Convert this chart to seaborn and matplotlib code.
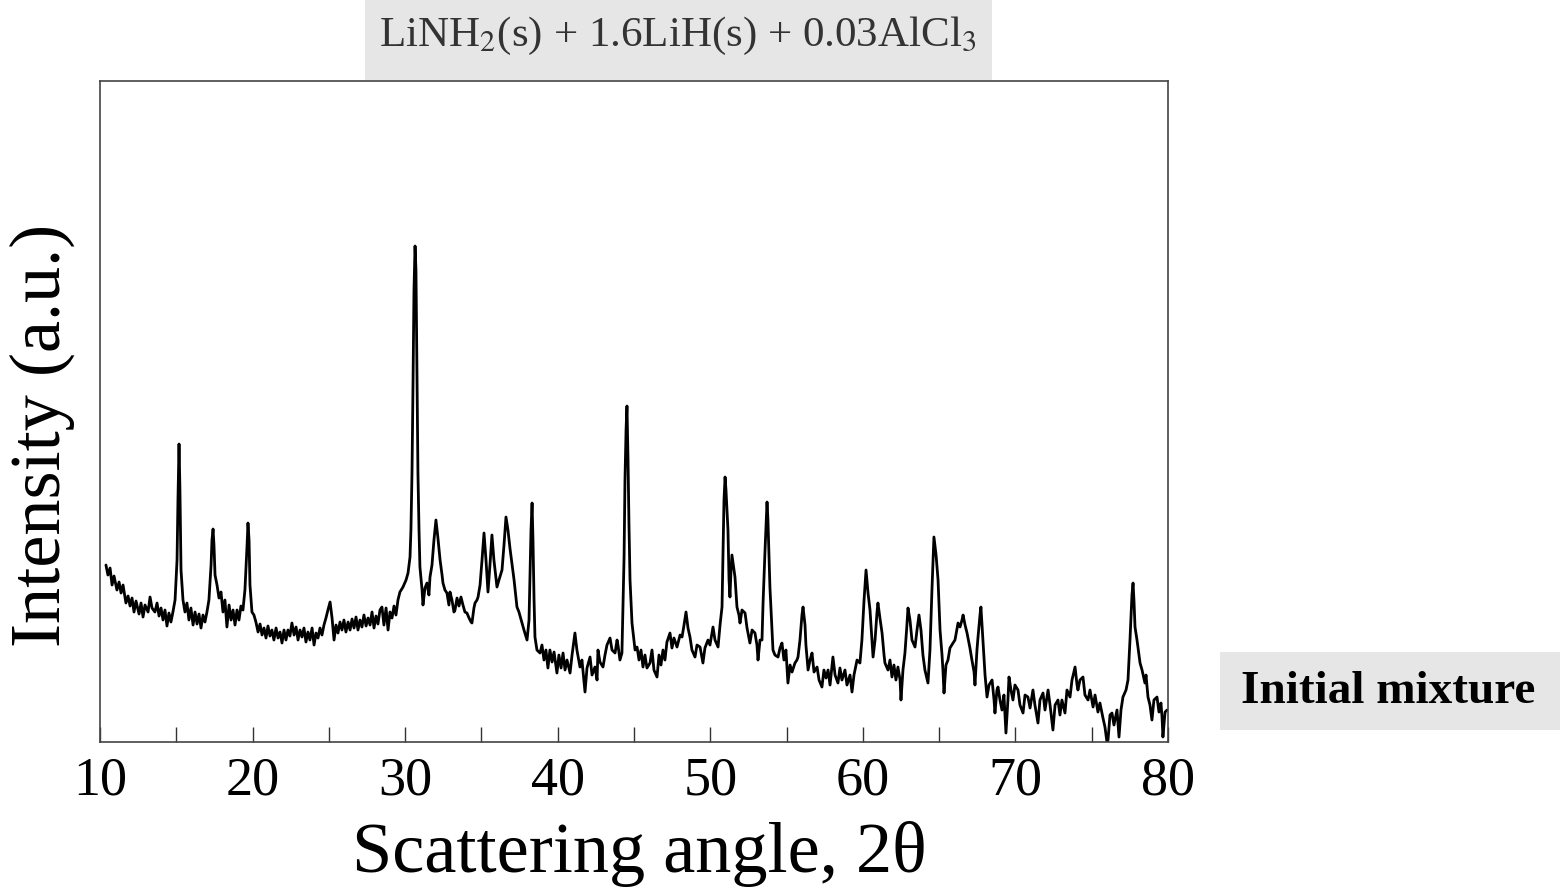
import numpy as np
import pandas as pd
import matplotlib
matplotlib.use('Agg')
import matplotlib.pyplot as plt
from matplotlib.patches import Rectangle
from matplotlib.ticker import MultipleLocator
import seaborn as sns

# XRD pattern (angle in degrees 2theta, intensity in a.u.)
angle = [10.39, 10.52, 10.66, 10.79, 10.92, 11.11, 11.25, 11.38, 11.51, 11.70, 11.84, 11.97, 12.10, 12.23, 12.36,
         12.56, 12.69, 12.82, 12.95, 13.15, 13.28, 13.41, 13.60, 13.74, 13.87, 14.00, 14.13, 14.26, 14.39, 14.52,
         14.65, 14.78, 14.92, 15.05, 15.11, 15.18, 15.24, 15.31, 15.44, 15.57, 15.70, 15.83, 15.96, 16.10, 16.23,
         16.36, 16.49, 16.62, 16.75, 16.88, 17.01, 17.14, 17.28, 17.34, 17.41, 17.47, 17.54, 17.67, 17.80, 17.93,
         18.06, 18.19, 18.32, 18.46, 18.59, 18.72, 18.85, 18.98, 19.11, 19.24, 19.37, 19.50, 19.64, 19.70, 19.77,
         19.83, 19.96, 20.09, 20.22, 20.36, 20.49, 20.62, 20.75, 20.88, 21.01, 21.14, 21.27, 21.40, 21.54, 21.67,
         21.80, 21.93, 22.06, 22.19, 22.32, 22.45, 22.58, 22.72, 22.85, 22.98, 23.11, 23.24, 23.37, 23.50, 23.63,
         23.76, 23.90, 24.03, 24.16, 24.29, 24.42, 24.55, 24.68, 24.81, 24.94, 25.08, 25.21, 25.34, 25.47, 25.60,
         25.73, 25.86, 25.99, 26.12, 26.26, 26.39, 26.52, 26.65, 26.78, 26.91, 27.04, 27.17, 27.30, 27.44, 27.57,
         27.70, 27.83, 27.96, 28.09, 28.22, 28.35, 28.48, 28.61, 28.75, 28.88, 29.01, 29.14, 29.27, 29.40, 29.53,
         29.66, 29.86, 30.06, 30.19, 30.32, 30.38, 30.45, 30.52, 30.58, 30.65, 30.71, 30.78, 30.84, 30.91, 30.97,
         31.11, 31.17, 31.30, 31.43, 31.56, 31.63, 31.76, 31.89, 32.02, 32.15, 32.29, 32.42, 32.48, 32.61, 32.74,
         32.87, 32.94, 33.07, 33.20, 33.27, 33.40, 33.53, 33.66, 33.79, 33.92, 34.05, 34.19, 34.32, 34.38, 34.51,
         34.58, 34.71, 34.78, 34.91, 35.04, 35.17, 35.30, 35.43, 35.56, 35.69, 35.82, 36.02, 36.15, 36.35, 36.48,
         36.61, 36.74, 36.87, 37.00, 37.14, 37.33, 37.46, 37.66, 37.79, 37.99, 38.12, 38.18, 38.25, 38.32, 38.38,
         38.45, 38.51, 38.64, 38.84, 38.97, 39.10, 39.23, 39.36, 39.49, 39.63, 39.76, 39.95, 40.08, 40.22, 40.35,
         40.48, 40.61, 40.81, 40.94, 41.13, 41.26, 41.46, 41.59, 41.79, 41.92, 42.12, 42.25, 42.44, 42.58, 42.64,
         42.77, 42.97, 43.10, 43.23, 43.43, 43.56, 43.76, 43.89, 43.95, 44.08, 44.21, 44.35, 44.41, 44.48, 44.54,
         44.61, 44.67, 44.74, 44.87, 45.07, 45.20, 45.33, 45.46, 45.59, 45.72, 45.85, 46.05, 46.18, 46.31, 46.51,
         46.64, 46.77, 46.90, 47.03, 47.16, 47.36, 47.49, 47.62, 47.82, 48.02, 48.15, 48.28, 48.41, 48.54, 48.67,
         48.80, 49.00, 49.13, 49.33, 49.52, 49.65, 49.85, 49.98, 50.18, 50.31, 50.51, 50.64, 50.77, 50.83, 50.90,
         50.97, 51.03, 51.16, 51.23, 51.29, 51.36, 51.42, 51.56, 51.62, 51.75, 51.88, 51.95, 52.08, 52.28, 52.41,
         52.60, 52.74, 52.93, 53.06, 53.13, 53.26, 53.39, 53.46, 53.59, 53.72, 53.78, 53.91, 54.05, 54.11, 54.24,
         54.44, 54.57, 54.70, 54.83, 54.96, 55.09, 55.23, 55.36, 55.55, 55.68, 55.75, 55.88, 56.01, 56.08, 56.21,
         56.27, 56.41, 56.54, 56.67, 56.80, 57.00, 57.13, 57.32, 57.45, 57.59, 57.72, 57.85, 58.04, 58.18, 58.37,
         58.50, 58.63, 58.83, 58.96, 59.16, 59.29, 59.42, 59.62, 59.81, 59.94, 60.08, 60.21, 60.34, 60.47, 60.60,
         60.67, 60.80, 60.93, 60.99, 61.12, 61.26, 61.39, 61.45, 61.65, 61.78, 61.91, 62.04, 62.17, 62.30, 62.44,
         62.50, 62.63, 62.76, 62.89, 62.96, 63.09, 63.22, 63.42, 63.55, 63.68, 63.81, 63.94, 64.07, 64.27, 64.40,
         64.53, 64.66, 64.80, 64.93, 65.06, 65.19, 65.25, 65.32, 65.45, 65.58, 65.71, 65.91, 66.04, 66.24, 66.37,
         66.50, 66.57, 66.70, 66.83, 67.02, 67.15, 67.29, 67.35, 67.48, 67.55, 67.68, 67.74, 67.88, 68.01, 68.14,
         68.27, 68.47, 68.60, 68.66, 68.79, 68.86, 68.99, 69.12, 69.25, 69.38, 69.51, 69.58, 69.71, 69.84, 69.97,
         70.17, 70.30, 70.50, 70.63, 70.82, 70.96, 71.15, 71.28, 71.48, 71.61, 71.81, 71.94, 72.14, 72.27, 72.46,
         72.60, 72.79, 72.92, 73.05, 73.25, 73.38, 73.58, 73.71, 73.91, 74.04, 74.10, 74.23, 74.43, 74.56, 74.76,
         74.89, 75.09, 75.22, 75.41, 75.54, 75.74, 75.87, 76.00, 76.07, 76.20, 76.33, 76.46, 76.66, 76.79, 76.92,
         77.05, 77.25, 77.38, 77.51, 77.64, 77.71, 77.77, 77.84, 77.97, 78.17, 78.30, 78.49, 78.56, 78.69, 78.82,
         78.95, 79.08, 79.28, 79.41, 79.54, 79.61, 79.67, 79.81, 79.94]

intensity = [177, 167, 174, 157, 166, 152, 160, 149, 157, 139, 146, 136, 144, 130, 141,
             128, 139, 125, 137, 130, 145, 134, 130, 139, 126, 134, 122, 132, 116, 129,
             120, 130, 142, 182, 242, 298, 252, 172, 142, 130, 139, 122, 134, 117, 130,
             118, 128, 114, 127, 120, 130, 142, 177, 202, 213, 197, 167, 157, 144, 150,
             130, 142, 115, 137, 122, 132, 117, 132, 122, 136, 132, 152, 197, 219, 202,
             157, 130, 127, 120, 110, 118, 107, 114, 104, 116, 106, 112, 102, 114, 104,
             110, 99, 112, 102, 112, 106, 119, 107, 115, 102, 112, 105, 114, 100, 110,
             102, 114, 97, 109, 104, 114, 107, 117, 124, 132, 140, 124, 102, 117, 109,
             120, 112, 122, 110, 120, 112, 123, 114, 125, 112, 122, 115, 127, 116, 124,
             117, 130, 114, 126, 118, 132, 135, 117, 134, 112, 130, 124, 136, 127, 142,
             150, 155, 162, 169, 185, 212, 269, 362, 452, 496, 472, 362, 269, 212, 175,
             152, 137, 154, 159, 147, 165, 177, 202, 222, 204, 182, 167, 159, 152, 149,
             137, 150, 142, 130, 132, 144, 136, 145, 137, 130, 129, 124, 120, 119, 134,
             139, 142, 145, 157, 182, 209, 182, 150, 177, 207, 182, 155, 162, 172, 197,
             225, 212, 194, 179, 162, 135, 130, 119, 112, 102, 122, 162, 212, 239, 202,
             142, 105, 92, 89, 97, 82, 92, 74, 92, 80, 90, 69, 87, 74, 89,
             72, 82, 69, 87, 109, 92, 75, 82, 50, 74, 85, 67, 75, 62, 92,
             80, 75, 87, 97, 104, 92, 89, 102, 97, 82, 89, 185, 262, 312, 336,
             282, 219, 162, 119, 92, 95, 82, 92, 75, 87, 74, 79, 92, 72, 65,
             87, 77, 92, 82, 100, 109, 94, 104, 95, 107, 105, 117, 130, 114, 105,
             92, 85, 97, 95, 79, 94, 102, 97, 115, 102, 95, 117, 135, 182, 242,
             265, 252, 212, 162, 145, 172, 187, 172, 165, 135, 127, 119, 132, 129, 114,
             99, 112, 109, 97, 82, 102, 102, 139, 192, 240, 222, 155, 112, 92, 87,
             85, 94, 99, 82, 92, 59, 77, 70, 79, 82, 85, 102, 127, 135, 117,
             97, 72, 82, 89, 70, 75, 62, 55, 72, 64, 72, 57, 85, 67, 59,
             74, 62, 72, 57, 67, 50, 67, 82, 79, 102, 142, 172, 149, 132, 102,
             85, 102, 130, 139, 124, 109, 87, 79, 72, 82, 65, 77, 62, 75, 62,
             42, 72, 89, 117, 134, 122, 102, 95, 112, 127, 112, 87, 72, 59, 92,
             152, 205, 187, 162, 112, 87, 72, 49, 77, 82, 94, 99, 102, 119, 115,
             122, 127, 117, 109, 94, 82, 70, 57, 92, 105, 127, 135, 99, 67, 45,
             57, 62, 42, 29, 52, 55, 42, 32, 47, 9, 42, 65, 52, 42, 57,
             52, 37, 29, 47, 45, 34, 52, 37, 19, 42, 49, 32, 52, 37, 12,
             37, 42, 27, 42, 29, 52, 45, 62, 75, 57, 52, 62, 65, 47, 42,
             52, 35, 47, 30, 39, 24, 15, 0, 2, 27, 29, 17, 32, 5, 32,
             45, 52, 62, 102, 147, 159, 142, 115, 102, 79, 72, 59, 67, 45, 37,
             22, 42, 45, 30, 39, 25, 5, 30, 32]

title_text = 'LiNH$_2$(s) + 1.6LiH(s) + 0.03AlCl$_3$'
sample_text = 'Initial mixture'
x_ticks = [10, 20, 30, 40, 50, 60, 70, 80]

df = pd.DataFrame({'angle': angle, 'intensity': intensity})

sns.set_style('white')
plt.rcParams['font.family'] = ['Liberation Serif', 'DejaVu Serif']
plt.rcParams['mathtext.fontset'] = 'stix'
plt.rcParams['text.color'] = 'black'
plt.rcParams['xtick.color'] = 'black'

fig = plt.figure(figsize=(15.6, 8.94), dpi=100)
ax = fig.add_axes([0.0641, 0.170, 0.6846, 0.7394])

sns.lineplot(data=df, x='angle', y='intensity', ax=ax, color='black',
             linewidth=2.0, sort=False, estimator=None)

ax.set_xlim(10, 80)
ax.set_ylim(0, 661)
ax.set_xticks(x_ticks)
ax.set_xticklabels([str(t) for t in x_ticks])
ax.xaxis.set_minor_locator(MultipleLocator(5))
ax.tick_params(axis='x', which='both', direction='in', length=11, width=1,
               color='#333333', labelcolor='black', labelsize=39, pad=10, bottom=True)
ax.tick_params(axis='y', left=False, labelleft=False)
ax.set_xlabel('')
ax.set_ylabel('')
for s in ax.spines.values():
    s.set_color('#444444')
    s.set_linewidth(1.2)
    s.set_visible(True)

# axis labels placed like the reference
fig.text(0.027, 0.513, 'Intensity (a.u.)', rotation=90, ha='center', va='center',
         fontsize=52, color='black')
fig.text(0.410, 0.045, 'Scattering angle, 2θ', ha='center', va='center',
         fontsize=52, color='black')

# grey label boxes
fig.patches.append(Rectangle((0.234, 0.9105), 0.402, 0.0895, transform=fig.transFigure,
                             facecolor='#e6e6e6', edgecolor='none', zorder=0))
fig.text(0.4346, 0.960, title_text, ha='center', va='center', fontsize=31, color='#333333')

fig.patches.append(Rectangle((0.782, 0.1834), 0.218, 0.0872, transform=fig.transFigure,
                             facecolor='#e6e6e6', edgecolor='none', zorder=0))
fig.text(0.8897, 0.226, sample_text, ha='center', va='center', fontsize=34,
         fontweight='bold', color='black')

plt.savefig('out.png', dpi=100)
